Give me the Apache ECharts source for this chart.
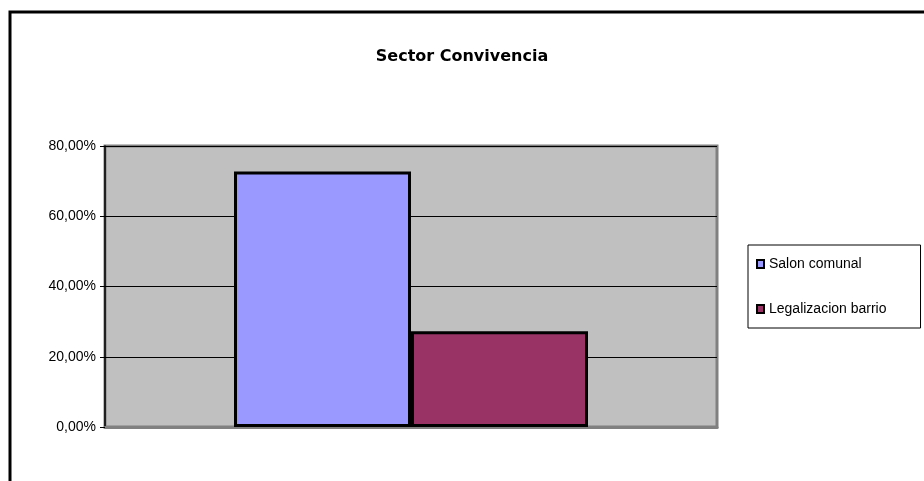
<!DOCTYPE html>
<html>
<head>
<meta charset="utf-8">
<script src="https://cdn.jsdelivr.net/npm/echarts@6/dist/echarts.min.js"></script>
<style>
    html, body { margin: 0; padding: 0; background: #fff; }
    #chart { width: 924px; height: 481px; }
</style>
</head>
<body>
<div id="chart"></div>
<script>
    // datos
    var categorias = ['Sector Convivencia'];
    var salonComunal = [0.7273];
    var legalizacionBarrio = [0.2727];
    var ticksY = [0, 0.2, 0.4, 0.6, 0.8];

    var fuente = '"Liberation Sans", Arial, sans-serif';

    function formatoPct(v) {
        return (v * 100).toFixed(2).replace('.', ',') + '%';
    }

    var chart = echarts.init(document.getElementById('chart'));
    chart.setOption({
        animation: false,
        backgroundColor: '#fff',
        title: {
            text: categorias[0],
            left: 'center',
            top: 44,
            textStyle: {
                fontFamily: '"DejaVu Sans", sans-serif',
                fontWeight: 'bold',
                fontSize: 16,
                color: '#000'
            }
        },
        graphic: [
            {
                // marco exterior
                type: 'rect',
                shape: { x: 10, y: 12, width: 930, height: 490 },
                style: { fill: 'none', stroke: '#000', lineWidth: 3 },
                silent: true
            }
        ],
        legend: {
            orient: 'vertical',
            left: 748,
            top: 245,
            padding: [12, 34, 12, 8],
            itemGap: 31,
            itemWidth: 7,
            itemHeight: 8,
            icon: 'rect',
            borderColor: '#000',
            borderWidth: 1,
            backgroundColor: '#fff',
            textStyle: { fontFamily: fuente, fontSize: 14, color: '#000' },
            data: ['Salon comunal', 'Legalizacion barrio']
        },
        grid: {
            left: 105,
            right: 207,
            top: 146,
            bottom: 54,
            show: true,
            backgroundColor: '#c0c0c0',
            borderColor: '#808080',
            borderWidth: 3
        },
        xAxis: {
            type: 'category',
            data: categorias,
            axisLine: { lineStyle: { color: '#808080', width: 3 } },
            axisTick: { show: false },
            axisLabel: { show: false }
        },
        yAxis: {
            type: 'value',
            min: ticksY[0],
            max: ticksY[ticksY.length - 1],
            interval: 0.2,
            axisLine: { show: true, lineStyle: { color: '#000', width: 1.5 } },
            axisTick: { show: true, length: 5, lineStyle: { color: '#000' } },
            axisLabel: {
                formatter: formatoPct,
                fontFamily: fuente,
                fontSize: 14,
                color: '#000',
                margin: 9
            },
            splitLine: { lineStyle: { color: '#000', width: 1 } }
        },
        series: [
            {
                name: 'Salon comunal',
                type: 'bar',
                data: salonComunal,
                barWidth: 177,
                barGap: '0%',
                itemStyle: { color: '#9999ff', borderColor: '#000', borderWidth: 3 }
            },
            {
                name: 'Legalizacion barrio',
                type: 'bar',
                data: legalizacionBarrio,
                barWidth: 177,
                barGap: '0%',
                itemStyle: { color: '#993366', borderColor: '#000', borderWidth: 3 }
            }
        ]
    });
</script>
</body>
</html>
